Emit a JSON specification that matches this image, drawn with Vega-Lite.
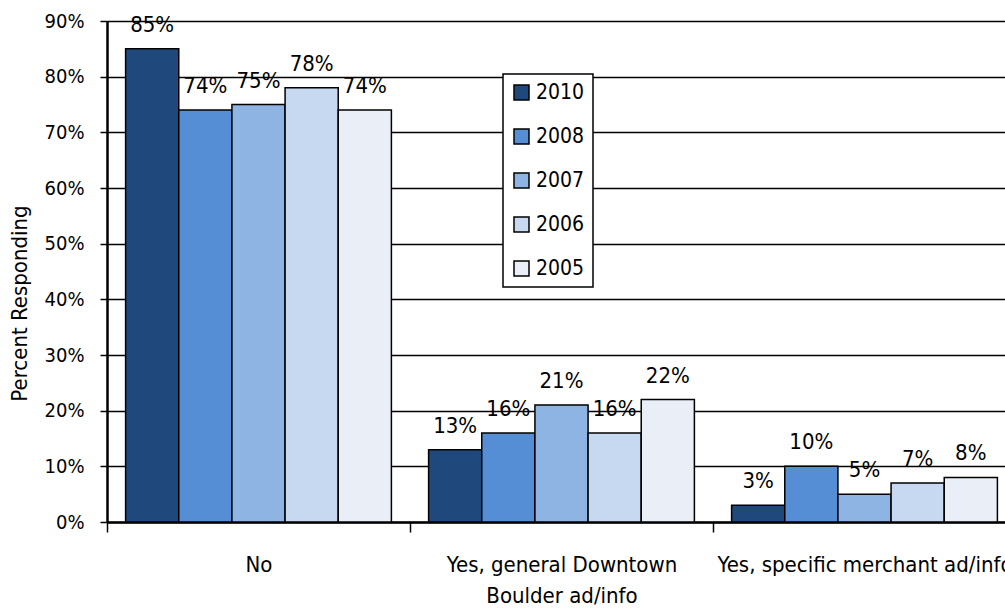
{
  "$schema": "https://vega.github.io/schema/vega-lite/v6.json",
  "autosize": {"type": "none"},
  "padding": {"left": 107, "top": 21, "right": 0, "bottom": 86},
  "width": 898,
  "height": 501,
  "background": "white",
  "config": {
    "view": {"stroke": null},
    "font": "'Liberation Sans Narrow', 'DejaVu Sans Condensed', 'Liberation Sans', sans-serif",
    "text": {"font": "'Liberation Sans Narrow', 'DejaVu Sans Condensed', 'Liberation Sans', sans-serif"}
  },
  "data": {
    "values": [
      {"response": "No", "year": "2010", "pct": 0.85},
      {"response": "No", "year": "2008", "pct": 0.74},
      {"response": "No", "year": "2007", "pct": 0.75},
      {"response": "No", "year": "2006", "pct": 0.78},
      {"response": "No", "year": "2005", "pct": 0.74},
      {"response": "Yes, general Downtown Boulder ad/info", "year": "2010", "pct": 0.13},
      {"response": "Yes, general Downtown Boulder ad/info", "year": "2008", "pct": 0.16},
      {"response": "Yes, general Downtown Boulder ad/info", "year": "2007", "pct": 0.21},
      {"response": "Yes, general Downtown Boulder ad/info", "year": "2006", "pct": 0.16},
      {"response": "Yes, general Downtown Boulder ad/info", "year": "2005", "pct": 0.22},
      {"response": "Yes, specific merchant ad/info", "year": "2010", "pct": 0.03},
      {"response": "Yes, specific merchant ad/info", "year": "2008", "pct": 0.10},
      {"response": "Yes, specific merchant ad/info", "year": "2007", "pct": 0.05},
      {"response": "Yes, specific merchant ad/info", "year": "2006", "pct": 0.07},
      {"response": "Yes, specific merchant ad/info", "year": "2005", "pct": 0.08}
    ]
  },
  "encoding": {
    "x": {
      "field": "response",
      "type": "nominal",
      "sort": ["No", "Yes, general Downtown Boulder ad/info", "Yes, specific merchant ad/info"],
      "scale": {"range": [0, 909], "paddingInner": 0, "paddingOuter": 0},
      "axis": {
        "title": null,
        "labelAngle": 0,
        "labelFontSize": 22,
        "labelColor": "black",
        "labelLineHeight": 31,
        "labelPadding": 22,
        "labelLimit": 600,
        "labelOverlap": false,
        "labelBound": false,
        "labelExpr": "datum.value == 'Yes, general Downtown Boulder ad/info' ? ['Yes, general Downtown', 'Boulder ad/info'] : datum.value",
        "domain": true,
        "domainColor": "black",
        "domainWidth": 2.5,
        "ticks": true,
        "tickBand": "extent",
        "tickSize": 10,
        "tickColor": "black",
        "tickWidth": 1.5,
        "grid": false
      }
    },
    "xOffset": {
      "field": "year",
      "type": "nominal",
      "sort": ["2010", "2008", "2007", "2006", "2005"],
      "scale": {"paddingInner": 0, "paddingOuter": 0.35}
    },
    "y": {
      "field": "pct",
      "type": "quantitative",
      "scale": {"domain": [0, 0.9]},
      "axis": {
        "values": [0, 0.1, 0.2, 0.3, 0.4, 0.5, 0.6, 0.7, 0.8, 0.9],
        "format": ".0%",
        "grid": true,
        "gridColor": "black",
        "gridWidth": 1.5,
        "gridOpacity": 1,
        "domain": true,
        "domainColor": "black",
        "domainWidth": 2.5,
        "ticks": true,
        "tickColor": "black",
        "tickSize": 7,
        "tickWidth": 1.5,
        "labelPadding": 16,
        "labelFontSize": 20,
        "labelColor": "black",
        "title": "Percent Responding",
        "titleFontSize": 22,
        "titleFontWeight": "normal",
        "titleColor": "black",
        "titleX": -88,
        "titleY": 282,
        "titleAngle": -90,
        "titleAlign": "center",
        "titleBaseline": "middle"
      }
    }
  },
  "layer": [
    {
      "mark": {"type": "bar", "stroke": "black", "strokeWidth": 1.5},
      "encoding": {
        "color": {
          "field": "year",
          "type": "nominal",
          "sort": ["2010", "2008", "2007", "2006", "2005"],
          "scale": {
            "domain": ["2010", "2008", "2007", "2006", "2005"],
            "range": ["#1F497D", "#558ED5", "#8EB4E3", "#C6D9F1", "#E9EEF7"]
          },
          "legend": {
            "title": null,
            "orient": "none",
            "legendX": 396,
            "legendY": 53,
            "fillColor": "white",
            "strokeColor": "black",
            "padding": 8,
            "rowPadding": 22,
            "symbolType": "square",
            "symbolSize": 225,
            "symbolStrokeColor": "black",
            "symbolStrokeWidth": 1.5,
            "symbolOpacity": 1,
            "labelFontSize": 21,
            "labelColor": "black",
            "labelOffset": 4,
            "encode": {"legend": {"update": {"strokeWidth": {"value": 1.5}}}}
          }
        }
      }
    },
    {
      "mark": {"type": "text", "fontSize": 22, "baseline": "alphabetic", "dy": -17, "color": "black"},
      "encoding": {
        "text": {"field": "pct", "type": "quantitative", "format": ".0%"}
      }
    }
  ]
}
